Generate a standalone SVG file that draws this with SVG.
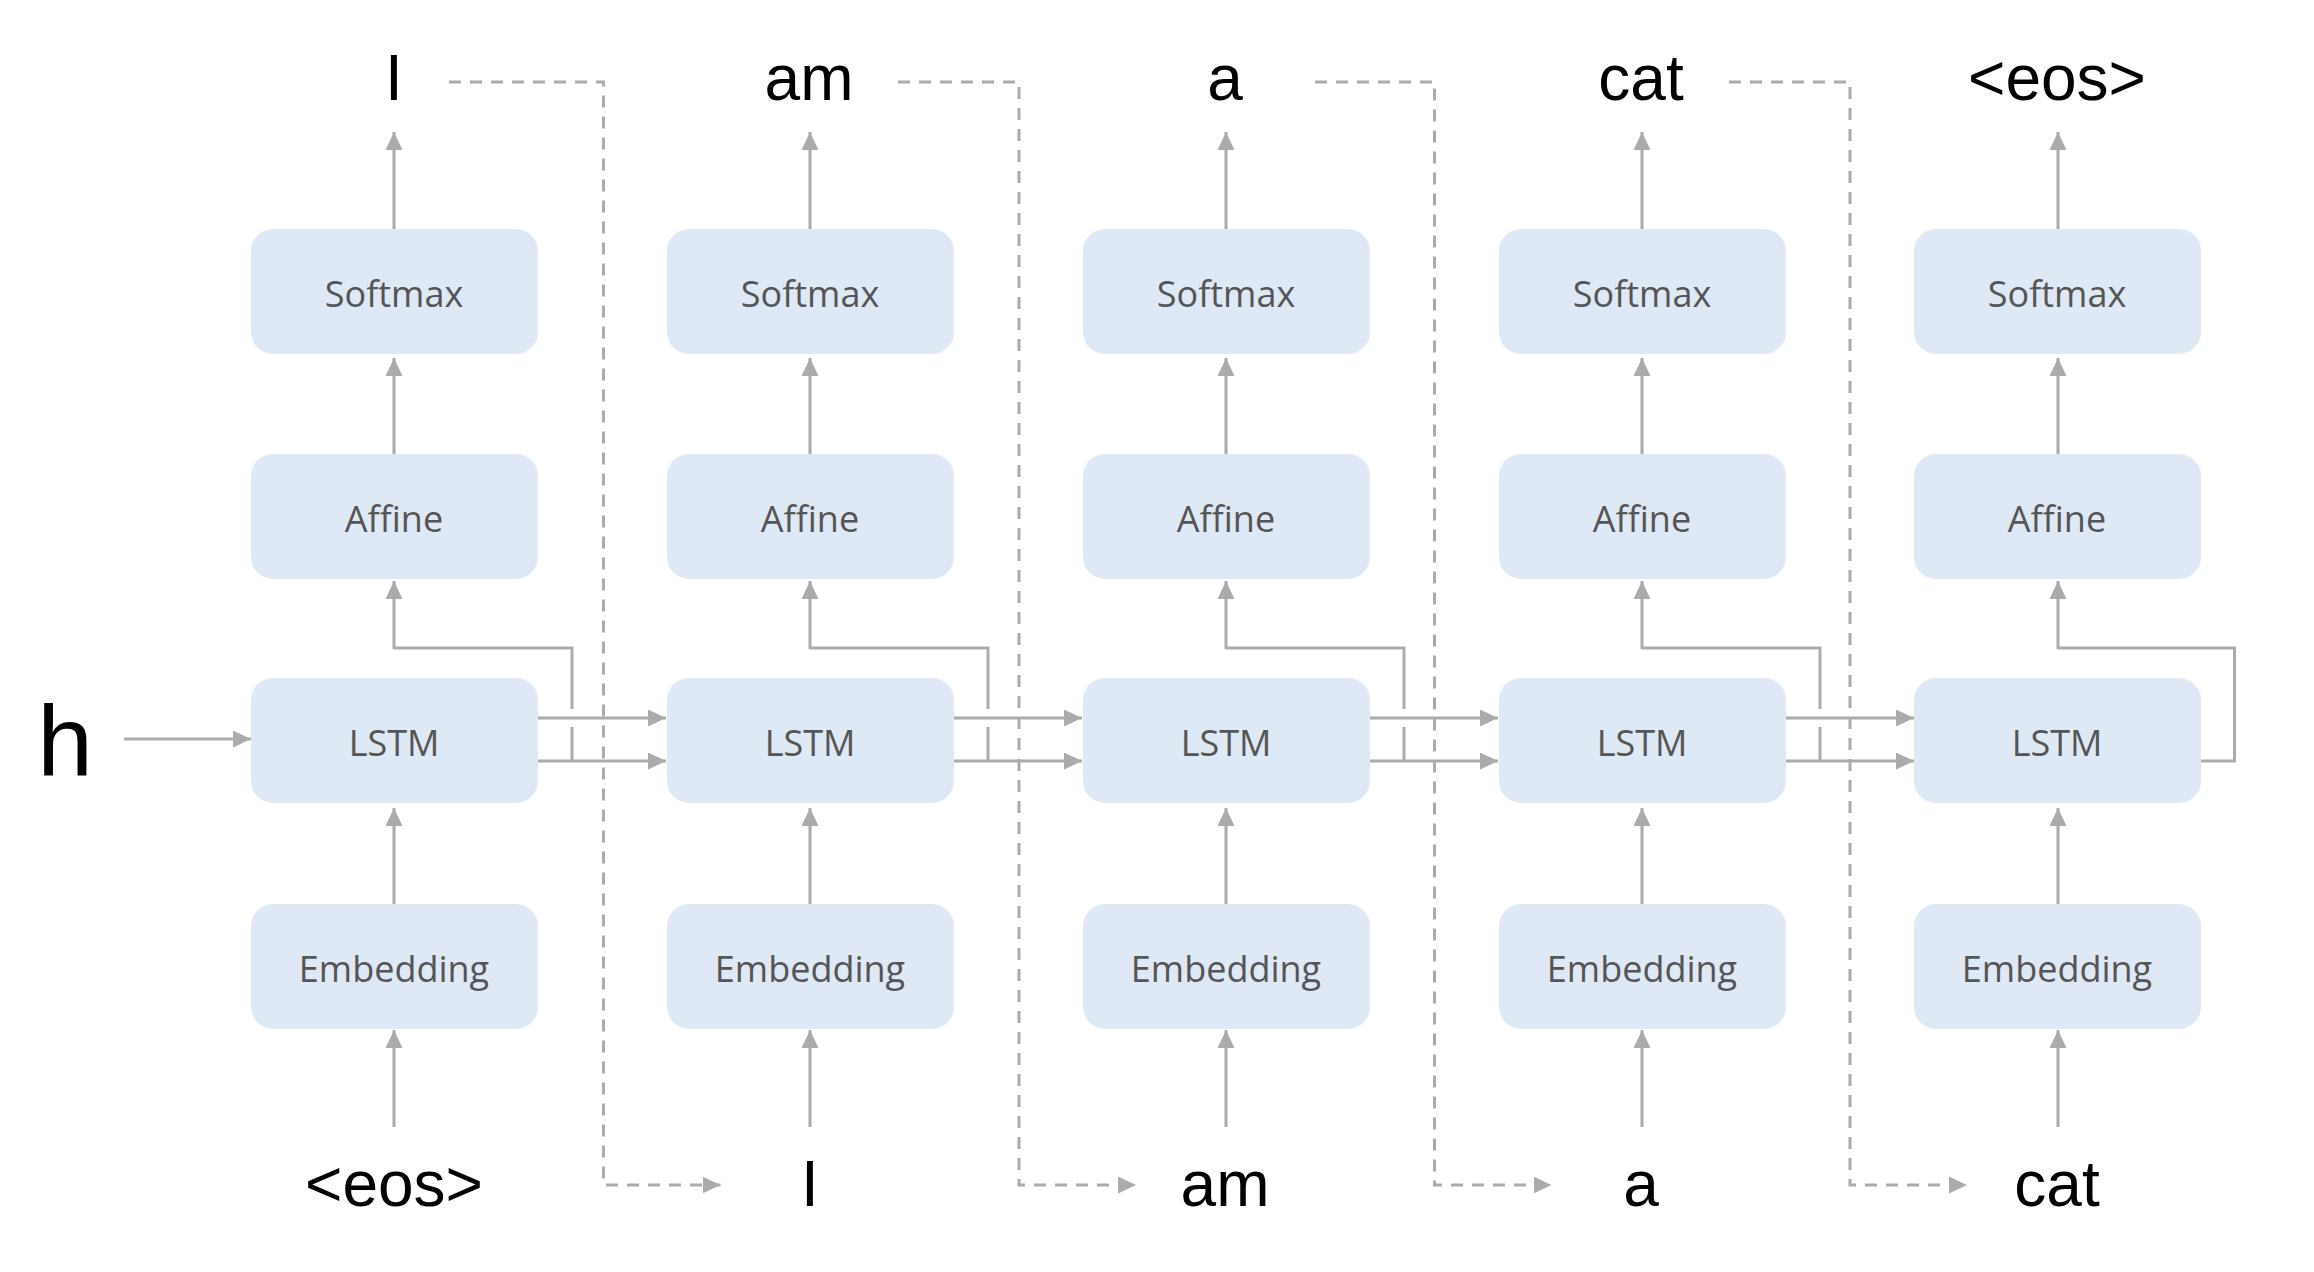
<svg xmlns="http://www.w3.org/2000/svg" width="2314" height="1272" viewBox="0 0 2314 1272">
<defs>
<marker id="ah" viewBox="0 0 18 17" refX="18" refY="8.5" markerWidth="18" markerHeight="17" markerUnits="userSpaceOnUse" orient="auto">
<path d="M0,0 L18,8.5 L0,17 z" fill="#ababab"/>
</marker>
</defs>
<style>
.box{fill:#dfe8f5;stroke:none}
.bt{font-family:"Open Sans","Noto Sans",sans-serif;font-size:36px;fill:#555555;text-anchor:middle}
.lb{font-family:"Liberation Sans",Arial,sans-serif;font-size:64px;fill:#000000;text-anchor:middle}
.ln{fill:none;stroke:#ababab;stroke-width:3}
.arr{fill:none;stroke:#ababab;stroke-width:3;marker-end:url(#ah)}
.dsh{fill:none;stroke:#ababab;stroke-width:3;stroke-dasharray:12 9;marker-end:url(#ah)}
</style>
<rect width="2314" height="1272" fill="#ffffff"/>

<g id="connectors">
<line class="arr" x1="124" y1="739" x2="251" y2="739"/>
<line class="arr" x1="394" y1="229" x2="394" y2="132"/>
<line class="arr" x1="394" y1="454" x2="394" y2="358"/>
<line class="arr" x1="394" y1="904" x2="394" y2="808"/>
<line class="arr" x1="394" y1="1127" x2="394" y2="1030"/>
<line class="arr" x1="538" y1="718" x2="666" y2="718"/>
<line class="arr" x1="538" y1="761" x2="666" y2="761"/>
<path class="ln" d="M572,761 V727 M572,709 V648 H394"/>
<line class="arr" x1="394" y1="649" x2="394" y2="581"/>
<line class="arr" x1="810" y1="229" x2="810" y2="132"/>
<line class="arr" x1="810" y1="454" x2="810" y2="358"/>
<line class="arr" x1="810" y1="904" x2="810" y2="808"/>
<line class="arr" x1="810" y1="1127" x2="810" y2="1030"/>
<line class="arr" x1="954" y1="718" x2="1082" y2="718"/>
<line class="arr" x1="954" y1="761" x2="1082" y2="761"/>
<path class="ln" d="M988,761 V727 M988,709 V648 H810"/>
<line class="arr" x1="810" y1="649" x2="810" y2="581"/>
<line class="arr" x1="1226" y1="229" x2="1226" y2="132"/>
<line class="arr" x1="1226" y1="454" x2="1226" y2="358"/>
<line class="arr" x1="1226" y1="904" x2="1226" y2="808"/>
<line class="arr" x1="1226" y1="1127" x2="1226" y2="1030"/>
<line class="arr" x1="1370" y1="718" x2="1498" y2="718"/>
<line class="arr" x1="1370" y1="761" x2="1498" y2="761"/>
<path class="ln" d="M1404,761 V727 M1404,709 V648 H1226"/>
<line class="arr" x1="1226" y1="649" x2="1226" y2="581"/>
<line class="arr" x1="1642" y1="229" x2="1642" y2="132"/>
<line class="arr" x1="1642" y1="454" x2="1642" y2="358"/>
<line class="arr" x1="1642" y1="904" x2="1642" y2="808"/>
<line class="arr" x1="1642" y1="1127" x2="1642" y2="1030"/>
<line class="arr" x1="1786" y1="718" x2="1914" y2="718"/>
<line class="arr" x1="1786" y1="761" x2="1914" y2="761"/>
<path class="ln" d="M1820,761 V727 M1820,709 V648 H1642"/>
<line class="arr" x1="1642" y1="649" x2="1642" y2="581"/>
<line class="arr" x1="2058" y1="229" x2="2058" y2="132"/>
<line class="arr" x1="2058" y1="454" x2="2058" y2="358"/>
<line class="arr" x1="2058" y1="904" x2="2058" y2="808"/>
<line class="arr" x1="2058" y1="1127" x2="2058" y2="1030"/>
<path class="ln" d="M2201,761 H2234.5 V648 H2058"/>
<line class="arr" x1="2058" y1="649" x2="2058" y2="581"/>
<path class="dsh" d="M449,82 H603.5 V1185 H720.5"/>
<path class="dsh" d="M898,82 H1019 V1185 H1136"/>
<path class="dsh" d="M1315,82 H1434.5 V1185 H1551.5"/>
<path class="dsh" d="M1729,82 H1850 V1185 H1967"/>
</g>

<g id="col1">
<g id="softmax1"><rect class="box" x="251" y="229" width="287" height="125" rx="22"/><text class="bt" x="394" y="307">Softmax</text></g>
<g id="affine1"><rect class="box" x="251" y="454" width="287" height="125" rx="22"/><text class="bt" x="394" y="532">Affine</text></g>
<g id="lstm1"><rect class="box" x="251" y="678" width="287" height="125" rx="22"/><text class="bt" x="394" y="756">LSTM</text></g>
<g id="embedding1"><rect class="box" x="251" y="904" width="287" height="125" rx="22"/><text class="bt" x="394" y="982">Embedding</text></g>
</g>
<g id="col2">
<g id="softmax2"><rect class="box" x="667" y="229" width="287" height="125" rx="22"/><text class="bt" x="810" y="307">Softmax</text></g>
<g id="affine2"><rect class="box" x="667" y="454" width="287" height="125" rx="22"/><text class="bt" x="810" y="532">Affine</text></g>
<g id="lstm2"><rect class="box" x="667" y="678" width="287" height="125" rx="22"/><text class="bt" x="810" y="756">LSTM</text></g>
<g id="embedding2"><rect class="box" x="667" y="904" width="287" height="125" rx="22"/><text class="bt" x="810" y="982">Embedding</text></g>
</g>
<g id="col3">
<g id="softmax3"><rect class="box" x="1083" y="229" width="287" height="125" rx="22"/><text class="bt" x="1226" y="307">Softmax</text></g>
<g id="affine3"><rect class="box" x="1083" y="454" width="287" height="125" rx="22"/><text class="bt" x="1226" y="532">Affine</text></g>
<g id="lstm3"><rect class="box" x="1083" y="678" width="287" height="125" rx="22"/><text class="bt" x="1226" y="756">LSTM</text></g>
<g id="embedding3"><rect class="box" x="1083" y="904" width="287" height="125" rx="22"/><text class="bt" x="1226" y="982">Embedding</text></g>
</g>
<g id="col4">
<g id="softmax4"><rect class="box" x="1499" y="229" width="287" height="125" rx="22"/><text class="bt" x="1642" y="307">Softmax</text></g>
<g id="affine4"><rect class="box" x="1499" y="454" width="287" height="125" rx="22"/><text class="bt" x="1642" y="532">Affine</text></g>
<g id="lstm4"><rect class="box" x="1499" y="678" width="287" height="125" rx="22"/><text class="bt" x="1642" y="756">LSTM</text></g>
<g id="embedding4"><rect class="box" x="1499" y="904" width="287" height="125" rx="22"/><text class="bt" x="1642" y="982">Embedding</text></g>
</g>
<g id="col5">
<g id="softmax5"><rect class="box" x="1914" y="229" width="287" height="125" rx="22"/><text class="bt" x="2057" y="307">Softmax</text></g>
<g id="affine5"><rect class="box" x="1914" y="454" width="287" height="125" rx="22"/><text class="bt" x="2057" y="532">Affine</text></g>
<g id="lstm5"><rect class="box" x="1914" y="678" width="287" height="125" rx="22"/><text class="bt" x="2057" y="756">LSTM</text></g>
<g id="embedding5"><rect class="box" x="1914" y="904" width="287" height="125" rx="22"/><text class="bt" x="2057" y="982">Embedding</text></g>
</g>

<g id="labels">
<text id="h" x="65" y="776" font-family="Liberation Sans, Arial, sans-serif" font-size="100" text-anchor="middle" fill="#000">h</text>
<text class="lb" x="394" y="100">I</text>
<text class="lb" x="809" y="100">am</text>
<text class="lb" x="1225" y="100">a</text>
<text class="lb" x="1641" y="100">cat</text>
<text class="lb" x="2057" y="100">&lt;eos&gt;</text>
<text class="lb" x="394" y="1206">&lt;eos&gt;</text>
<text class="lb" x="810" y="1206">I</text>
<text class="lb" x="1225" y="1206">am</text>
<text class="lb" x="1641" y="1206">a</text>
<text class="lb" x="2057" y="1206">cat</text>
</g>
</svg>
